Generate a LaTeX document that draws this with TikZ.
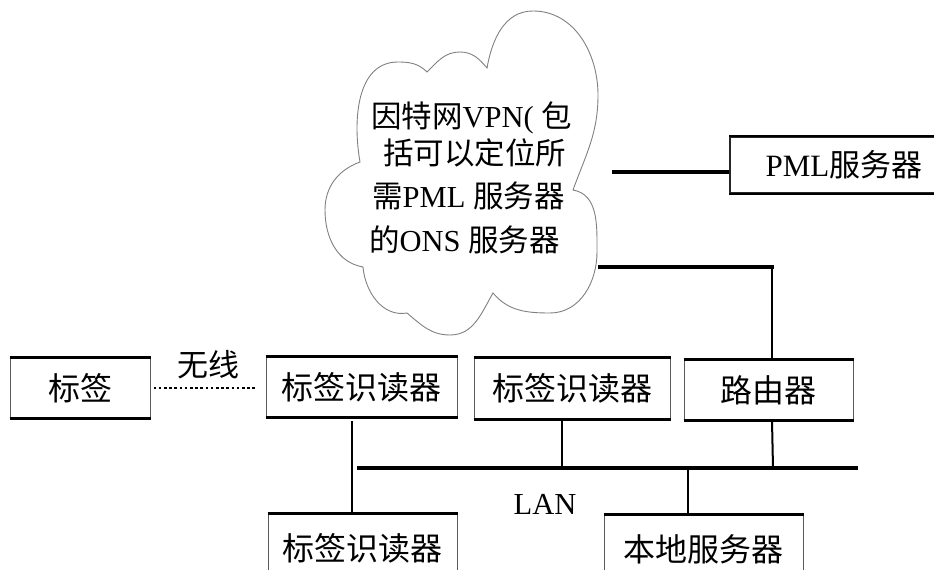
\documentclass[tikz,border=0pt]{standalone}
\usepackage{fontspec}
\setmainfont{Liberation Serif}
\newfontfamily\cjk{Noto Sans CJK SC}
\newcommand\zh[1]{{\cjk #1}}
\begin{document}
\begin{tikzpicture}[x=1pt,y=1pt,
  box/.style={draw=gray!70!black, line width=1pt, inner sep=0pt, font=\fontsize{32}{38}\selectfont\cjk},
  edge/.style={line width=3pt, black},
  conn/.style={line width=2pt, black},
  bus/.style={line width=3.5pt, black},
  cloudline/.style={draw=gray, line width=0.9pt},
  txt/.style={inner sep=0pt, font=\fontsize{30.5}{36}\selectfont},
  wireless/.style={line width=2.8pt, dash pattern=on 2.6pt off 2.6pt, line cap=butt}
]
\useasboundingbox (0,0) rectangle (934,570);
\clip (0,0) rectangle (934,570);

% cloud
\draw[cloudline] (360,408)
  to[out=100,in=180] (398,508)
  to[out=0,in=135] (427,498)
  to[out=45,in=180] (460,518)
  to[out=0,in=130] (487,502)
  to[out=80,in=180] (533,559)
  to[out=0,in=90] (598,475)
  to[out=-90,in=70] (573,380)
  to[out=-10,in=90] (597,318)
  to[out=-90,in=0] (550,257)
  to[out=180,in=-50] (493,277)
  to[out=-120,in=0] (450,235)
  to[out=180,in=-40] (407,257)
  to[out=190,in=-85] (363,303)
  to[out=170,in=-90] (325,360)
  to[out=90,in=200] cycle;

\node[txt, anchor=base west] (t1) at (371,442) {\zh{因特网}VPN( \zh{包}};
\node[txt, anchor=base west] (t2) at (383,405) {\zh{括可以定位所}};
\node[txt, anchor=base west] (t3) at (372,362) {\zh{需}PML \zh{服务器}};
\node[txt, anchor=base west] (t4) at (369,318) {\zh{的}ONS \zh{服务器}};

% boxes
\node[box, minimum width=140pt, minimum height=60pt] (tag) at (80,182) {标签};
\node[box, minimum width=191pt, minimum height=60pt] (reader1) at (361.5,183) {标签识读器};
\node[box, minimum width=196pt, minimum height=61pt] (reader2) at (572,181.5) {标签识读器};
\node[box, minimum width=169pt, minimum height=60pt] (router) at (768.5,180) {路由器};
\node[box, minimum width=189pt, minimum height=68pt] (reader3) at (362.5,22) {标签识读器};
\node[box, minimum width=199pt, minimum height=68pt] (localsrv) at (703.5,21) {本地服务器};
\node[box, draw=black!85, line width=1.3pt, minimum width=228pt, minimum height=56pt,
      font=\fontsize{31}{36}\selectfont] (pml) at (844,405) {PML\zh{服务器}};

\foreach \n in {tag,reader1,reader2,router}{
  \draw[edge] (\n.north west) -- (\n.north east);
  \draw[edge] (\n.south west) -- (\n.south east);
}
\foreach \n in {reader3,localsrv}{
  \draw[edge] (\n.north west) -- (\n.north east);
}
\draw[line width=2pt] (pml.north west) -- (pml.north east);
\draw[line width=2pt] (pml.south west) -- (pml.south east);

% wireless link
\draw[wireless, shorten <=3pt, shorten >=8pt] (tag.east) -- (tag.east -| reader1.west);
\node[txt, font=\fontsize{31}{36}\selectfont\cjk] (wl) at (208,205) {无线};

% LAN
\coordinate (lanW) at (357,102);
\coordinate (lanE) at (858,102);
\draw[bus] (lanW) -- (lanE);
\node[txt, anchor=base] (lan) at (545,55) {LAN};

\draw[conn] ([xshift=-9.5pt,yshift=-4pt]reader1.south) -- ([xshift=-10.5pt]reader3.north);
\draw[conn] ([xshift=-10pt]reader2.south) -- ([xshift=-10pt]reader2.south |- lanW);
\draw[conn] ([xshift=3.5pt]router.south) -- ([xshift=4.5pt]router.south |- lanW);
\draw[conn] ([xshift=-15.5pt]localsrv.north) -- ([xshift=-15.5pt]localsrv.north |- lanW);

% router to cloud
\coordinate (cloudR) at (600,303);
\coordinate (rc) at (772,303);
\draw[conn] ([xshift=3.5pt]router.north) -- (rc);
\draw[bus, line cap=rect] (rc) -- (cloudR);

% cloud to PML server
\coordinate (cloudP) at (612,398);
\draw[bus] (cloudP) -- (pml.west |- cloudP);
\end{tikzpicture}
\end{document}
